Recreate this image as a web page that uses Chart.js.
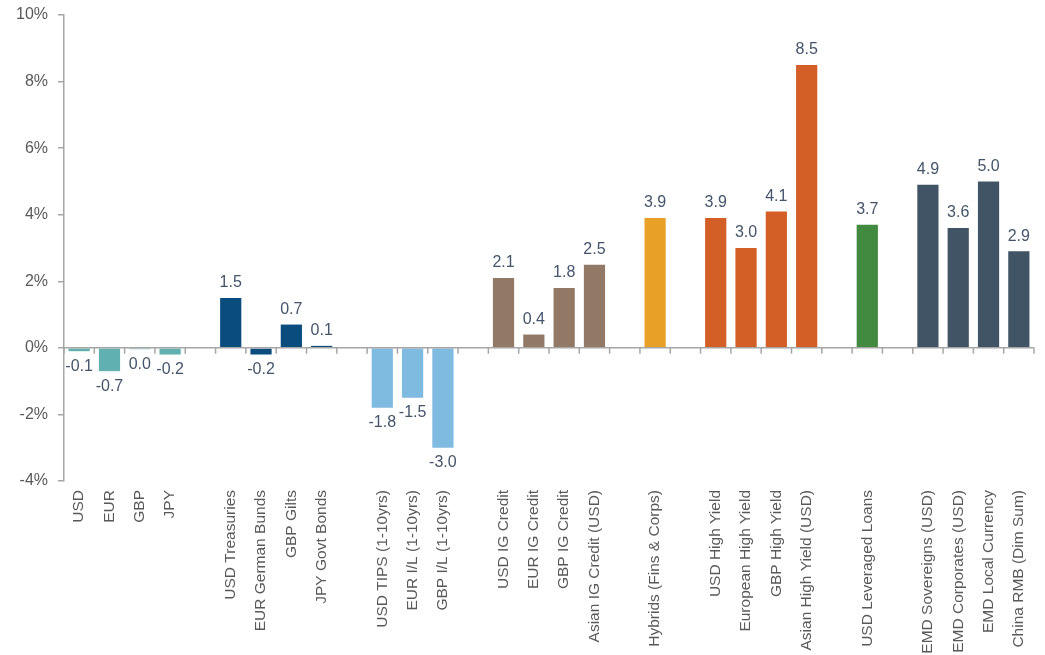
<!DOCTYPE html>
<html>
<head>
<meta charset="utf-8">
<script src="https://cdn.jsdelivr.net/npm/chart.js@4.4.1/dist/chart.umd.min.js"></script>
<style>
  html, body { margin: 0; padding: 0; background: #fff; }
  #wrap { width: 1045px; height: 655px; position: relative; }
</style>
</head>
<body>
<div id="wrap"><canvas id="chart"></canvas></div>
<script>
// Categories (empty strings are the gaps between groups)
const categories = [
    "USD", "EUR", "GBP", "JPY", "",
    "USD Treasuries", "EUR German Bunds", "GBP Gilts", "JPY Govt Bonds", "",
    "USD TIPS (1-10yrs)", "EUR I/L (1-10yrs)", "GBP I/L (1-10yrs)", "",
    "USD IG Credit", "EUR IG Credit", "GBP IG Credit", "Asian IG Credit (USD)", "",
    "Hybrids (Fins & Corps)", "",
    "USD High Yield", "European High Yield", "GBP High Yield", "Asian High Yield (USD)", "",
    "USD Leveraged Loans", "",
    "EMD Sovereigns (USD)", "EMD Corporates (USD)", "EMD Local Currency", "China RMB (Dim Sum)"
];

// Returns in %
const values = [
    -0.1, -0.7, -0.04, -0.2, null,
    1.5, -0.2, 0.7, 0.06, null,
    -1.8, -1.5, -3.0, null,
    2.1, 0.4, 1.8, 2.5, null,
    3.9, null,
    3.9, 3.0, 4.1, 8.5, null,
    3.7, null,
    4.9, 3.6, 5.0, 2.9
];

// Asset group for each category
const groups = [
    "fx", "fx", "fx", "fx", null,
    "govt", "govt", "govt", "govt", null,
    "linkers", "linkers", "linkers", null,
    "ig", "ig", "ig", "ig", null,
    "hybrid", null,
    "hy", "hy", "hy", "hy", null,
    "loans", null,
    "emd", "emd", "emd", "emd"
];

const yTicks = [-4, -2, 0, 2, 4, 6, 8, 10];

const groupColors = {
    fx: "#5fb0af",
    govt: "#0b4c7f",
    linkers: "#7fbae1",
    ig: "#917966",
    hybrid: "#e8a027",
    hy: "#d35f27",
    loans: "#418a3f",
    emd: "#415465"
};

const axisColor = "#a6a6a6";
const textColor = "#595959";
const labelColor = "#44546a";
const FONT = "'Liberation Sans', Arial, sans-serif";

function fmt(v) {
    let s = v.toFixed(1);
    if (s === "-0.0") s = "0.0";
    return s;
}

// Zero line with tick marks on category boundaries + value labels
const overlay = {
    id: "overlay",
    afterDatasetsDraw(chart) {
        const ctx = chart.ctx;
        const x = chart.scales.x, y = chart.scales.y;
        const y0 = y.getPixelForValue(0);
        const step = x.getPixelForValue(1) - x.getPixelForValue(0);
        ctx.save();
        ctx.strokeStyle = axisColor;
        ctx.lineWidth = 1.5;
        ctx.beginPath();
        ctx.moveTo(chart.chartArea.left, y0);
        ctx.lineTo(chart.chartArea.right, y0);
        for (let i = 0; i <= categories.length; i++) {
            const px = x.getPixelForValue(i) - step / 2;
            ctx.moveTo(px, y0);
            ctx.lineTo(px, y0 + 6);
        }
        ctx.stroke();

        ctx.fillStyle = labelColor;
        ctx.font = "16px " + FONT;
        ctx.textAlign = "center";
        const meta = chart.getDatasetMeta(0);
        meta.data.forEach((bar, i) => {
            const v = values[i];
            if (v === null) return;
            if (v > 0) {
                ctx.textBaseline = "bottom";
                ctx.fillText(fmt(v), bar.x, bar.y - 7);
            } else {
                ctx.textBaseline = "top";
                ctx.fillText(fmt(v), bar.x, Math.max(bar.y, y0) + 7);
            }
        });
        ctx.restore();
    }
};

new Chart(document.getElementById("chart"), {
    type: "bar",
    data: {
        labels: categories,
        datasets: [{
            data: values,
            backgroundColor: groups.map(g => g ? groupColors[g] : "transparent"),
            barPercentage: 0.7,
            categoryPercentage: 1.0,
            borderWidth: 0
        }]
    },
    options: {
        responsive: true,
        maintainAspectRatio: false,
        animation: false,
        layout: { padding: { top: 15, right: 11, left: 0, bottom: 0 } },
        plugins: { legend: { display: false }, tooltip: { enabled: false } },
        scales: {
            x: {
                grid: { display: false },
                border: { display: false },
                ticks: {
                    autoSkip: false,
                    minRotation: 90,
                    maxRotation: 90,
                    padding: 1,
                    color: textColor,
                    font: { family: FONT, size: 15.5 }
                },
                afterFit: s => { s.height = 174; }
            },
            y: {
                min: -4,
                max: 10,
                afterBuildTicks: s => { s.ticks = yTicks.map(v => ({ value: v })); },
                grid: { drawOnChartArea: false, color: axisColor, tickLength: 6, lineWidth: 1.5 },
                border: { color: axisColor, width: 1.5 },
                ticks: {
                    padding: 10,
                    color: textColor,
                    font: { family: FONT, size: 16 },
                    callback: v => v + "%"
                },
                afterFit: s => { s.width = 64; s.paddingTop = 0; s.paddingBottom = 0; }
            }
        }
    },
    plugins: [overlay]
});
</script>
</body>
</html>
